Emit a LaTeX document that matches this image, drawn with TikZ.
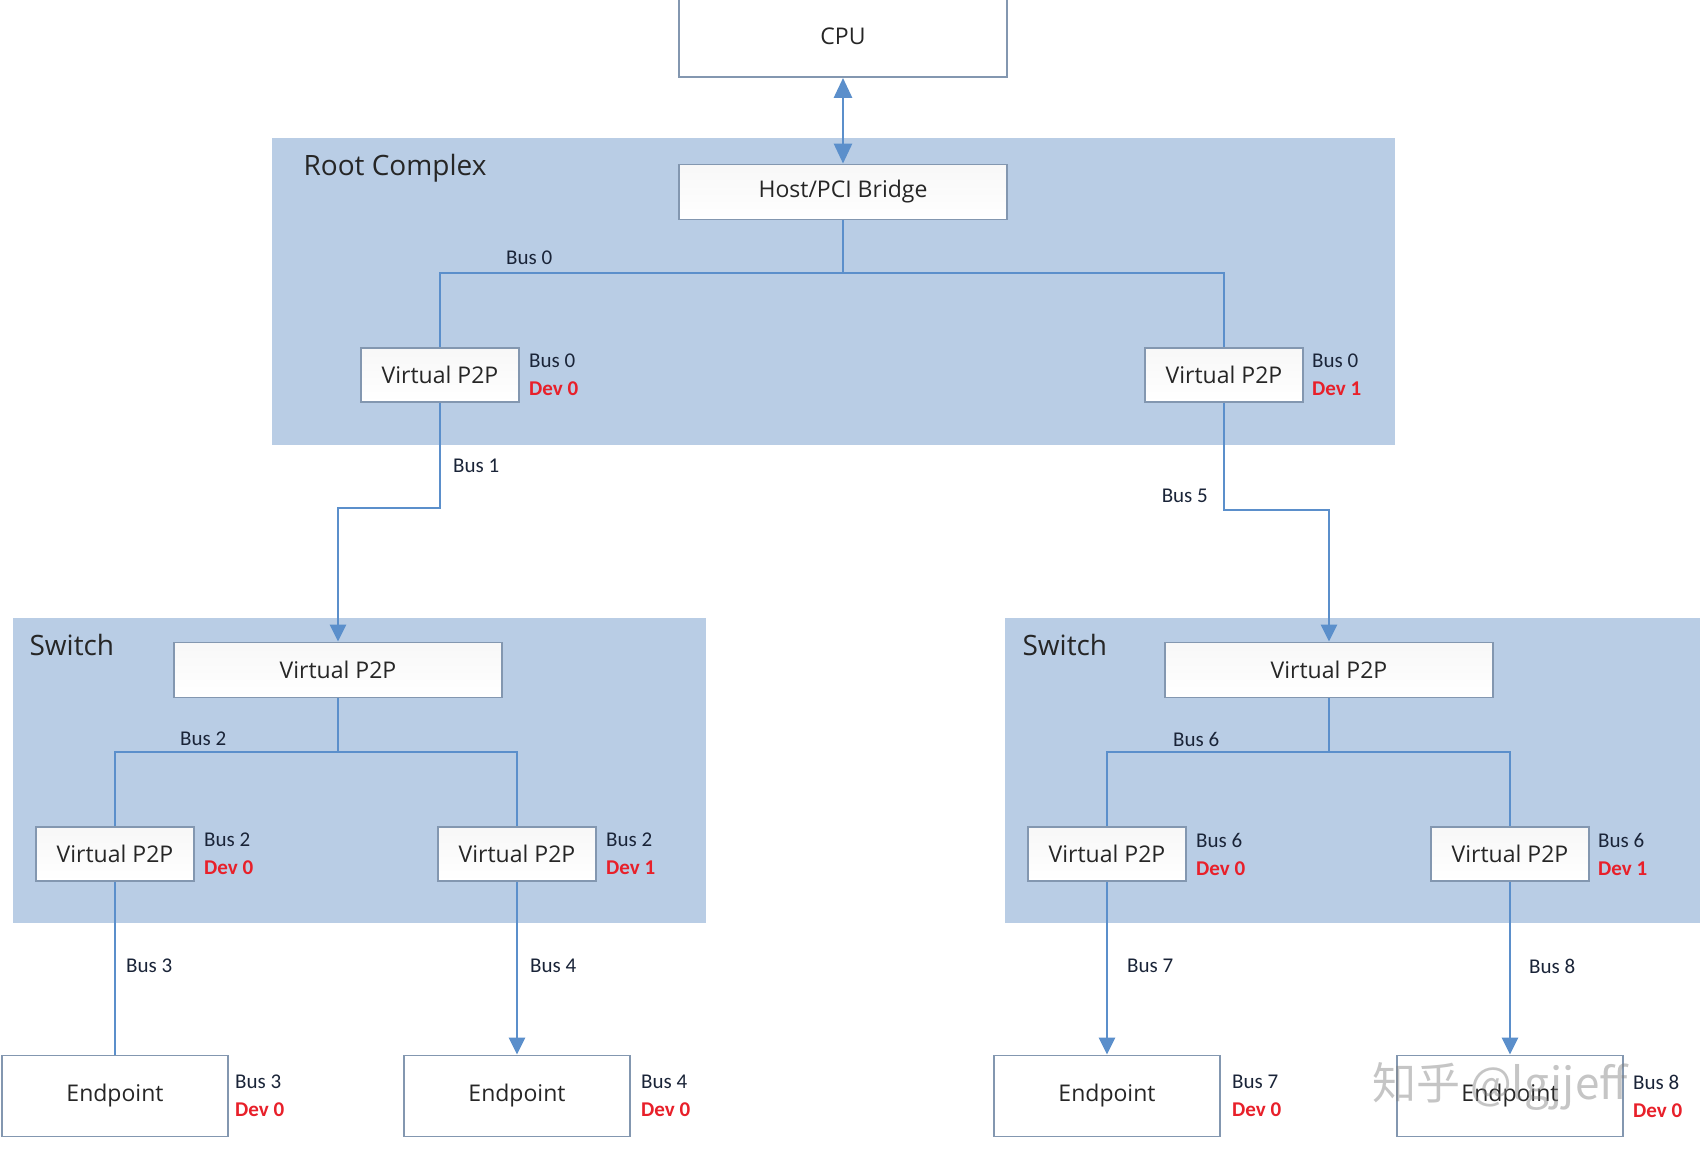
\documentclass[tikz,border=0pt]{standalone}
\usepackage{fontspec}
\setmainfont{Open Sans}
\newfontfamily\smallfont{Carlito}
\newfontfamily\cjkfont{Noto Sans CJK SC}
\usetikzlibrary{arrows.meta}
\definecolor{areablue}{HTML}{B9CDE5}
\definecolor{linkblue}{HTML}{5B8FCB}
\definecolor{boxedge}{HTML}{8397B0}
\definecolor{textgray}{HTML}{262626}
\definecolor{labelnavy}{HTML}{1A2438}
\definecolor{devred}{HTML}{E8202A}
\tikzset{
  area/.style={fill=areablue, draw=none},
  boxbase/.style={draw=boxedge, line width=1.9pt, top color=gray!6, bottom color=white,
    text=textgray, inner sep=0pt, font=\fontsize{23}{27}\selectfont},
  bigbox/.style={boxbase, minimum width=328pt, minimum height=55pt},
  p2pbox/.style={boxbase, minimum width=158pt, minimum height=54pt},
  endbox/.style={boxbase, top color=white, minimum width=226pt, minimum height=81pt},
  title/.style={anchor=west, text=textgray, font=\fontsize{28}{32}\selectfont},
  bus/.style={text=labelnavy, font=\smallfont\fontsize{21}{25}\selectfont, inner sep=0pt},
  busdev/.style={bus, anchor=west, align=left, font=\smallfont\fontsize{21}{28}\selectfont},
  link/.style={draw=linkblue, line width=2.9pt},
  tip/.style={-{Triangle[length=17pt,width=16pt]}},
}
\newcommand{\devtxt}[1]{{\color{devred}\bfseries #1}}
\begin{document}
\begin{tikzpicture}[x=1pt,y=-1pt]
\useasboundingbox (0,0) rectangle (1703,1158);
\fill[white] (0,0) rectangle (1703,1158);

% shaded regions
\fill[area] (272,138) rectangle (1395,445);
\fill[area] (13,618) rectangle (706,923);
\fill[area] (1005,618) rectangle (1700,923);
\node[title] (rctitle) at (300,168) {Root Complex};
\node[title] (swltitle) at (26,645) {Switch};
\node[title] (swrtitle) at (1019,645) {Switch};

% boxes
\node[bigbox, top color=white, minimum height=82pt] (cpu) at (843,36) {CPU};
\node[bigbox] (bridge) at (843,192) {Host/PCI Bridge};
\node[p2pbox] (vp0) at (440,375) {Virtual P2P};
\node[p2pbox] (vp1) at (1224,375) {Virtual P2P};
\node[bigbox] (svl) at (338,670) {Virtual P2P};
\node[bigbox] (svr) at (1329,670) {Virtual P2P};
\node[p2pbox] (vll) at (115,854) {Virtual P2P};
\node[p2pbox] (vlr) at (517,854) {Virtual P2P};
\node[p2pbox] (vrl) at (1107,854) {Virtual P2P};
\node[p2pbox] (vrr) at (1510,854) {Virtual P2P};
\node[endbox] (ell) at (115,1096) {Endpoint};
\node[endbox] (elr) at (517,1096) {Endpoint};
\node[endbox] (erl) at (1107,1096) {Endpoint};
\node[endbox] (err) at (1510,1096) {Endpoint};

% bus junction points
\coordinate (bus0) at (843,273);
\coordinate (bend1) at (0,508);
\coordinate (bend5) at (0,510);
\coordinate (bus2) at (338,752);
\coordinate (bus6) at (1329,752);

% connectors
\draw[link, {Triangle[length=20pt,width=18pt]}-{Triangle[length=20pt,width=18pt]}] (cpu.south) -- (bridge.north);
\draw[link] (bridge.south) -- (bus0);
\draw[link] (vp0.north) |- (bus0) -| (vp1.north);
\draw[link, tip] (vp0.south) -- (vp0.south |- bend1) -| (svl.north);
\draw[link, tip] (vp1.south) -- (vp1.south |- bend5) -| (svr.north);
\draw[link] (svl.south) -- (bus2);
\draw[link] (vll.north) |- (bus2) -| (vlr.north);
\draw[link] (svr.south) -- (bus6);
\draw[link] (vrl.north) |- (bus6) -| (vrr.north);
\draw[link] (vll.south) -- (ell.north);
\draw[link, tip] (vlr.south) -- (elr.north);
\draw[link, tip] (vrl.south) -- (erl.north);
\draw[link, tip] (vrr.south) -- (err.north);

% bus labels on the links
\node[bus, anchor=west] (lb0) at (506,258) {Bus 0};
\node[bus, anchor=west] (lb1) at (453,466) {Bus 1};
\node[bus, anchor=east] (lb5) at (1208,496) {Bus 5};
\node[bus, anchor=west] (lb2) at (180,739) {Bus 2};
\node[bus, anchor=west] (lb6) at (1173,739) {Bus 6};
\node[bus, anchor=west] (lb3) at (126,966) {Bus 3};
\node[bus, anchor=west] (lb4) at (530,966) {Bus 4};
\node[bus, anchor=west] (lb7) at (1127,966) {Bus 7};
\node[bus, anchor=west] (lb8) at (1529,966) {Bus 8};

% bus / device numbers beside the bridges
\node[busdev] (id0) at ([xshift=9pt]vp0.east) {Bus 0\\\devtxt{Dev 0}};
\node[busdev] (id1) at ([xshift=8pt]vp1.east) {Bus 0\\\devtxt{Dev 1}};
\node[busdev] (idll) at ([xshift=9pt]vll.east) {Bus 2\\\devtxt{Dev 0}};
\node[busdev] (idlr) at ([xshift=9pt]vlr.east) {Bus 2\\\devtxt{Dev 1}};
\node[busdev] (idrl) at ([xshift=9pt]vrl.east) {Bus 6\\\devtxt{Dev 0}};
\node[busdev] (idrr) at ([xshift=8pt]vrr.east) {Bus 6\\\devtxt{Dev 1}};
\node[busdev] (idell) at ([xshift=6pt]ell.east) {Bus 3\\\devtxt{Dev 0}};
\node[busdev] (idelr) at ([xshift=10pt]elr.east) {Bus 4\\\devtxt{Dev 0}};
\node[busdev] (iderl) at ([xshift=11pt]erl.east) {Bus 7\\\devtxt{Dev 0}};
\node[busdev] (iderr) at ([xshift=9pt]err.east) {Bus 8\\\devtxt{Dev 0}};

% watermark
\node[anchor=west, text=gray, opacity=0.45, font=\cjkfont\fontsize{44}{48}\selectfont, inner sep=0pt]
  (mark) at (1372,1086) {知乎 @lgjjeff};
\end{tikzpicture}
\end{document}
